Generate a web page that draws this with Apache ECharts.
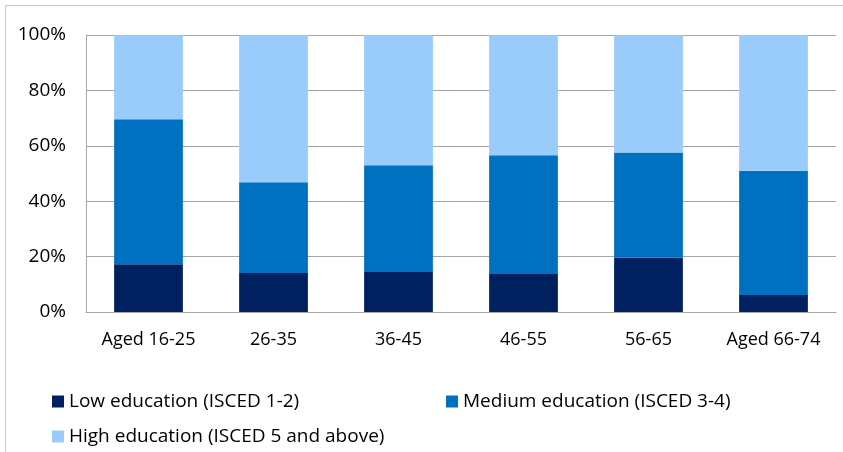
<!DOCTYPE html>
<html>
<head>
<meta charset="utf-8">
<script src="https://cdn.jsdelivr.net/npm/echarts@6/dist/echarts.min.js"></script>
<style>
  html, body { margin: 0; padding: 0; background: #fff; }
  #chart { width: 843px; height: 452px; }
</style>
</head>
<body>
<div id="chart"></div>
<script>
const categories = ["Aged 16-25", "26-35", "36-45", "46-55", "56-65", "Aged 66-74"];
const lowEdu = [17.2, 14.1, 14.7, 13.7, 19.7, 6.1];
const mediumEdu = [52.4, 32.7, 38.3, 42.9, 37.9, 44.9];
const highEdu = [30.4, 53.2, 47.0, 43.4, 42.4, 49.0];
const seriesNames = [
  "Low education (ISCED 1-2)",
  "Medium education (ISCED 3-4)",
  "High education (ISCED 5 and above)"
];

const colors = ["#002060", "#0070C0", "#99CCFA"];
const font = "'Open Sans', 'Noto Sans', sans-serif";

const chart = echarts.init(document.getElementById("chart"));

const legendBase = {
  orient: "horizontal",
  icon: "rect",
  itemWidth: 12,
  itemHeight: 12,
  itemGap: 6,
  padding: 0,
  textStyle: { fontFamily: font, fontSize: 19, color: "#000" }
};

chart.setOption({
  animation: false,
  color: colors,
  graphic: [
    {
      type: "rect",
      shape: { x: 5.5, y: 5.5, width: 1000, height: 1000 },
      style: { fill: "none", stroke: "#c8c8c8", lineWidth: 1 },
      silent: true
    }
  ],
  grid: { left: 86, right: 7, top: 35, bottom: 140 },
  legend: [
    Object.assign({}, legendBase, { data: [seriesNames[0]], left: 52, top: 392 }),
    Object.assign({}, legendBase, { data: [seriesNames[1]], left: 446, top: 392 }),
    Object.assign({}, legendBase, { data: [seriesNames[2]], left: 52, top: 427 })
  ],
  xAxis: {
    type: "category",
    data: categories,
    axisLine: { lineStyle: { color: "#a6a6a6" } },
    axisTick: { show: false },
    axisLabel: { fontFamily: font, fontSize: 18, color: "#000", margin: 19, interval: 0 }
  },
  yAxis: {
    type: "value",
    min: 0,
    max: 100,
    interval: 20,
    axisLine: { show: true, lineStyle: { color: "#a6a6a6" } },
    axisTick: { show: false },
    splitLine: { lineStyle: { color: "#a6a6a6" } },
    axisLabel: {
      fontFamily: font, fontSize: 19, color: "#000", margin: 20,
      formatter: "{value}%"
    }
  },
  series: [lowEdu, mediumEdu, highEdu].map((vals, i) => ({
    name: seriesNames[i],
    type: "bar",
    stack: "total",
    data: vals,
    barWidth: "55%",
    itemStyle: { color: colors[i] }
  }))
});
</script>
</body>
</html>
